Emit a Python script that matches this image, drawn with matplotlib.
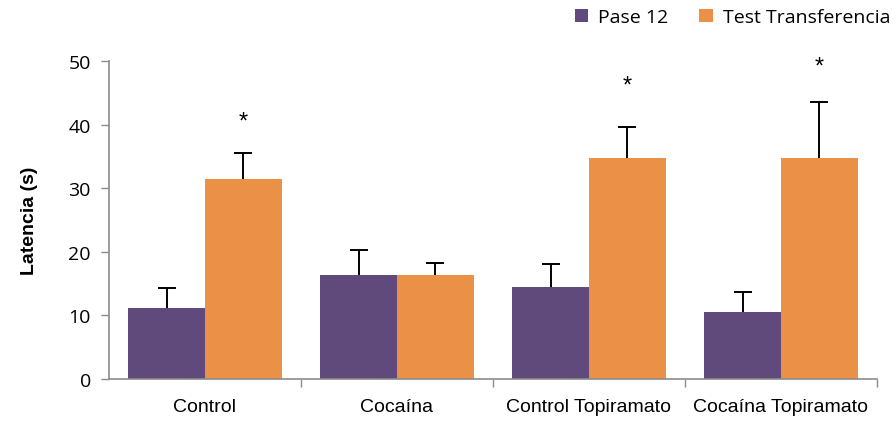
import numpy as np
import matplotlib.pyplot as plt

categories = ["Control", "Cocaína", "Control Topiramato", "Cocaína Topiramato"]
pase12 = [11.2, 16.4, 14.5, 10.6]
pase12_err = [3.1, 3.9, 3.6, 3.1]
test_transf = [31.4, 16.4, 34.7, 34.7]
test_transf_err = [4.1, 1.9, 4.9, 8.9]
# significance marks drawn above the Test Transferencia bars
star_y = [40.5, None, 46.1, 49.1]

purple = "#604a7b"
orange = "#eb9147"
axis_gray = "#8c8c8c"

fig = plt.figure(figsize=(8.93, 4.27), dpi=100)
ax = fig.add_axes([0.122, 0.110, 0.860, 0.745])

x = np.arange(len(categories))
w = 0.40

ax.bar(x - w / 2, pase12, w, color=purple, label="Pase 12", zorder=2)
ax.bar(x + w / 2, test_transf, w, color=orange, label="Test Transferencia", zorder=2)

# upper-only error bars: hide the lower cap that sits on the bar top
for xs, vals, errs in [(x - w / 2, pase12, pase12_err),
                       (x + w / 2, test_transf, test_transf_err)]:
    _, caps, _ = ax.errorbar(xs, vals, yerr=[np.zeros(len(xs)), errs], fmt="none",
                             ecolor="black", elinewidth=1.4, capsize=6.5,
                             capthick=1.4, zorder=3)
    caps[0].set_visible(False)

for xi, sy in zip(x, star_y):
    if sy is not None:
        ax.text(xi + w / 2, sy, "*", ha="center", va="center", fontsize=17,
                family="Liberation Sans")

ax.set_xlim(-0.5, len(categories) - 0.5)
ax.set_ylim(0, 50)
ax.set_yticks(np.arange(0, 51, 10))
ax.tick_params(axis="y", labelsize=14, colors=axis_gray, labelcolor="black",
               length=6, width=1, pad=7)
for lbl in ax.get_yticklabels():
    lbl.set_family("Open Sans")

# category labels centred, tick marks on the group boundaries
ax.set_xticks(x)
ax.set_xticklabels(categories, fontsize=14, family="Liberation Sans")
ax.tick_params(axis="x", length=0, pad=14)
ax.set_xticks(np.arange(0.5, len(categories), 1), minor=True)
ax.tick_params(axis="x", which="minor", length=6, width=1, colors=axis_gray)

for side in ["top", "right"]:
    ax.spines[side].set_visible(False)
for side in ["left", "bottom"]:
    ax.spines[side].set_color(axis_gray)
    ax.spines[side].set_linewidth(1.2)

ax.set_ylabel("Latencia (s)", fontsize=14, fontweight="bold",
              family="Liberation Sans", labelpad=22)

ax.legend(loc="upper right", bbox_to_anchor=(1.04, 1.22), ncol=2,
          frameon=False, handlelength=0.7, handleheight=0.7,
          handletextpad=0.5, columnspacing=1.6,
          prop={"family": "Open Sans", "size": 14})

fig.savefig("out.png", dpi=100)
